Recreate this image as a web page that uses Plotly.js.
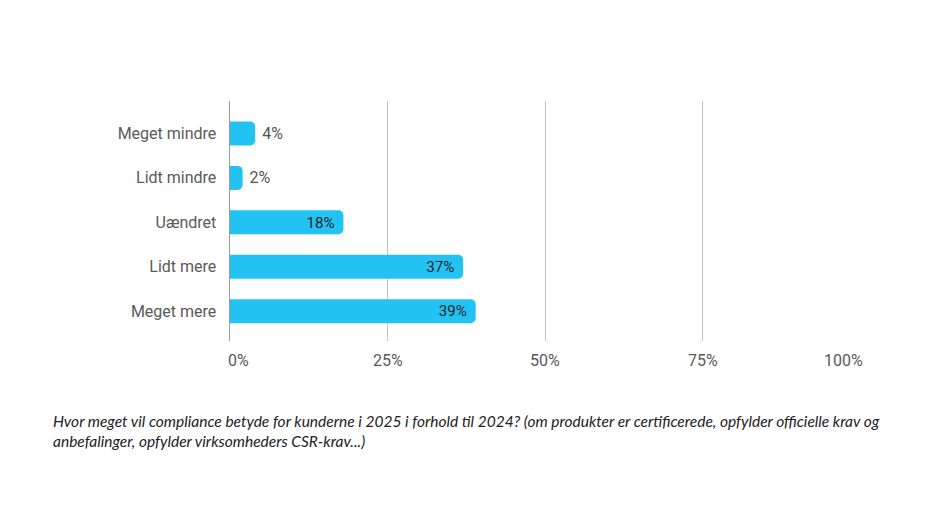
<!DOCTYPE html>
<html>
<head>
<meta charset="utf-8">
<script src="https://cdn.plot.ly/plotly-3.0.1.min.js"></script>
<style>html,body{margin:0;padding:0;background:#fff;}#chart{width:935px;height:528px;}</style>
</head>
<body>
<div id="chart"></div>
<script>
const categories = ["Meget mindre", "Lidt mindre", "Uændret", "Lidt mere", "Meget mere"];
const values = [4, 2, 18, 37, 39];
const valueLabels = ["4%", "2%", "18%", "37%", "39%"];
const xTickValues = [0, 25, 50, 75, 100];
const xTickLabels = ["0%", "25%", "50%", "75%", "100%"];
const caption = "Hvor meget vil compliance betyde for kunderne i 2025 i forhold til 2024? (om produkter er certificerede, opfylder officielle krav og<br>anbefalinger, opfylder virksomheders CSR-krav...)";

const isOutside = values.map(v => v < 10);
const positions = isOutside.map(o => o ? "outside" : "inside");
const textColors = isOutside.map(o => o ? "#555555" : "#222222");
const shownText = valueLabels.map((t, i) => isOutside[i] ? "\u00a0" + t : t + "\u00a0");

const trace = {
  type: "bar",
  orientation: "h",
  y: categories,
  x: values,
  text: shownText,
  textposition: positions,
  insidetextanchor: "end",
  textfont: {family: "Roboto, sans-serif", size: 16, color: textColors},
  insidetextfont: {family: "Roboto, sans-serif", size: 16, color: textColors},
  outsidetextfont: {family: "Roboto, sans-serif", size: 16, color: textColors},
  cliponaxis: false,
  constraintext: "none",
  marker: {color: "#22c3f2", cornerradius: 5},
  hoverinfo: "none"
};

const lastTick = xTickValues.length - 1;
const tickAnnotations = xTickValues.map((v, i) => ({
  xref: "x", yref: "paper",
  x: v, y: -19 / 240,
  xanchor: i === 0 ? "left" : (i === lastTick ? "right" : "center"),
  xshift: i === 0 ? -4 : (i === lastTick ? 5 : 0),
  yanchor: "middle",
  showarrow: false,
  text: xTickLabels[i],
  font: {family: "Roboto, sans-serif", size: 16, color: "#5a5a5a"}
}));

const layout = {
  width: 935, height: 528,
  margin: {l: 230, r: 75, t: 101, b: 187},
  paper_bgcolor: "#ffffff",
  plot_bgcolor: "#ffffff",
  bargap: 0.46,
  showlegend: false,
  xaxis: {
    range: [0, 100],
    tickvals: xTickValues,
    showticklabels: false,
    showgrid: true,
    gridcolor: "#c4c4c4",
    gridwidth: 1,
    zeroline: false,
    showline: false,
    ticks: "",
    fixedrange: true
  },
  yaxis: {
    type: "category",
    categoryorder: "array",
    categoryarray: categories,
    range: [4.67, -0.73],
    showgrid: false,
    zeroline: false,
    showline: true,
    linecolor: "#9a9a9a",
    linewidth: 1.5,
    ticks: "",
    ticklabelstandoff: 9,
    tickfont: {family: "Roboto, sans-serif", size: 16, color: "#5a5a5a"},
    fixedrange: true
  },
  annotations: tickAnnotations.concat([{
    xref: "paper", yref: "paper",
    x: -179/630, y: -69/240,
    xanchor: "left", yanchor: "top",
    align: "left",
    showarrow: false,
    text: "<i>" + caption + "</i>",
    font: {family: "Lato, sans-serif", size: 15.5, color: "#222222"}
  }])
};

Plotly.newPlot("chart", [trace], layout, {staticPlot: true, displayModeBar: false});
</script>
</body>
</html>
